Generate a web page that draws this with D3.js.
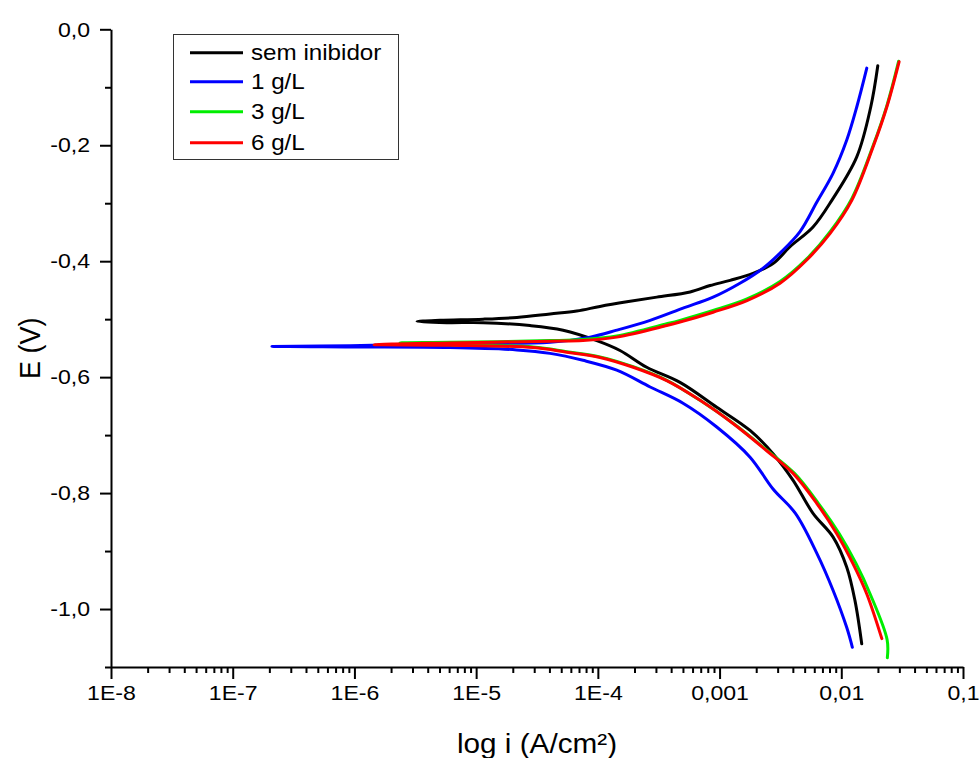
<!DOCTYPE html>
<html>
<head>
<meta charset="utf-8">
<script src="https://cdn.jsdelivr.net/npm/d3@7"></script>
<style>
  body { margin: 0; background: #fff; }
  svg { display: block; font-family: "Liberation Sans", Arial, sans-serif; }
</style>
</head>
<body>
<div class="chart"></div>
<script>
// series: current density (A/cm2) and potential (V),
// ordered along the scan: cathodic end -> corrosion tip -> anodic end
var seriesNames = ["sem inibidor", "1 g/L", "3 g/L", "6 g/L"];

var iSem = [0.01472, 0.01297, 0.01109, 0.00857, 0.00586, 0.00402, 0.00275, 0.00178, 9.48e-4, 4.73e-4,
    2.52e-4, 1.52e-4, 9.8e-5, 5.18e-5, 2.77e-5, 1.14e-5, 5.73e-6, 3.27e-6,
    5.05e-6, 1.14e-5, 2.16e-5, 4.05e-5, 6.71e-5, 1.04e-4, 1.73e-4, 3.05e-4, 5.73e-4, 8.36e-4,
    0.00122, 0.00188, 0.00275, 0.00379, 0.00586, 0.00836, 0.0134, 0.01746, 0.01995];
var eSem = [-1.060, -0.986, -0.928, -0.876, -0.835, -0.778, -0.732, -0.692, -0.652, -0.609,
    -0.583, -0.554, -0.537, -0.519, -0.511, -0.506, -0.506, -0.504,
    -0.502, -0.500, -0.497, -0.491, -0.486, -0.478, -0.470, -0.462, -0.453, -0.442,
    -0.433, -0.421, -0.404, -0.375, -0.341, -0.295, -0.220, -0.134, -0.063];

var i1 = [0.01233, 0.01109, 0.00857, 0.00630, 0.0042, 0.00275, 0.00178, 9.48e-4, 5.01e-4, 2.69e-4,
    1.43e-4, 7.55e-5, 4.05e-5, 2.16e-5, 6.1e-6, 9.2e-7, 2.1e-7,
    9.2e-7, 6.1e-6, 4.05e-5, 8.63e-5, 1.43e-4, 2.69e-4, 5.01e-4, 8.85e-4, 0.00147, 0.00228,
    0.00314, 0.00458, 0.00630, 0.00857, 0.01109, 0.0134, 0.0162];
var e1 = [-1.066, -1.032, -0.968, -0.904, -0.835, -0.793, -0.738, -0.686, -0.645, -0.617,
    -0.588, -0.571, -0.559, -0.553, -0.549, -0.548, -0.547,
    -0.546, -0.542, -0.540, -0.531, -0.519, -0.502, -0.481, -0.462, -0.438, -0.412,
    -0.386, -0.349, -0.298, -0.248, -0.191, -0.134, -0.067];

var i3 = [0.0239, 0.0238, 0.01726, 0.01324, 0.0096, 0.0065, 0.00413, 0.00248, 0.0013, 6.92e-4,
    3.65e-4, 1.95e-4, 1.04e-4, 5.54e-5, 2.94e-5, 6.1e-6, 2.37e-6,
    6.1e-6, 4.05e-5, 7.55e-5, 1.43e-4, 3.68e-4, 4.73e-4, 8.85e-4, 0.00168, 0.00314,
    0.0052, 0.0081, 0.0122, 0.01824, 0.02366, 0.0296];
var e3 = [-1.084, -1.053, -0.974, -0.922, -0.870, -0.818, -0.766, -0.727, -0.680, -0.640,
    -0.605, -0.582, -0.565, -0.556, -0.548, -0.544, -0.541,
    -0.540, -0.537, -0.535, -0.529, -0.508, -0.502, -0.485, -0.465, -0.435,
    -0.396, -0.349, -0.292, -0.201, -0.132, -0.055];

var i6 = [0.02153, 0.0162, 0.0125, 0.00918, 0.00630, 0.00402, 0.00244, 0.00129, 6.92e-4, 3.68e-4,
    1.95e-4, 1.04e-4, 5.54e-5, 2.94e-5, 6.1e-6, 1.45e-6,
    6.1e-6, 4.05e-5, 7.55e-5, 1.43e-4, 3.68e-4, 4.73e-4, 8.85e-4, 0.00168, 0.00314,
    0.0052, 0.0081, 0.0122, 0.01824, 0.02366, 0.02985];
var e6 = [-1.051, -0.974, -0.922, -0.870, -0.818, -0.766, -0.727, -0.680, -0.640, -0.606,
    -0.583, -0.566, -0.557, -0.549, -0.545, -0.544,
    -0.541, -0.538, -0.537, -0.531, -0.511, -0.505, -0.488, -0.468, -0.438,
    -0.398, -0.352, -0.295, -0.203, -0.134, -0.056];

var seriesColors = ["#000000", "#0000ff", "#00ee00", "#ff0000"];

var xTickValues = [1e-8, 1e-7, 1e-6, 1e-5, 1e-4, 1e-3, 1e-2, 1e-1];
var xTickLabels = ["1E-8", "1E-7", "1E-6", "1E-5", "1E-4", "0,001", "0,01", "0,1"];
var yTickValues = [0, -0.2, -0.4, -0.6, -0.8, -1.0];
var yTickLabels = ["0,0", "-0,2", "-0,4", "-0,6", "-0,8", "-1,0"];
var yMinorValues = [-0.1, -0.3, -0.5, -0.7, -0.9, -1.1];

var svgWidth = 980;
var svgHeight = 758;
var plotLeft = 111, plotRight = 963, plotTop = 29.3, plotBottom = 667;
var stretch = 1.1;   // text in the picture is a bit wider than plain Arial

var $svg = d3.select(".chart")
    .append("svg")
    .attr("width", svgWidth)
    .attr("height", svgHeight);

var xScale = d3.scaleLog().domain([1e-8, 0.1]).range([plotLeft, plotRight]);
var yScale = d3.scaleLinear().domain([-1.1, 0]).range([plotBottom, plotTop]);

var xMinor = [];
for (var d = -8; d < -1; d++) {
    for (var k = 2; k <= 9; k++) xMinor.push(k * Math.pow(10, d));
}

// minor ticks
$svg.append("g")
    .attr("transform", `translate(0,${plotBottom})`)
    .call(d3.axisBottom(xScale).tickValues(xMinor).tickSize(6).tickFormat(""))
    .call(g => g.select(".domain").remove())
    .selectAll("line").attr("stroke-width", 2);

$svg.append("g")
    .attr("transform", `translate(${plotLeft},0)`)
    .call(d3.axisLeft(yScale).tickValues(yMinorValues).tickSize(6).tickFormat(""))
    .call(g => g.select(".domain").remove())
    .selectAll("line").attr("stroke-width", 2);

// major ticks
var $xAxis = $svg.append("g")
    .attr("transform", `translate(0,${plotBottom})`)
    .call(d3.axisBottom(xScale).tickValues(xTickValues).tickSize(12).tickSizeOuter(0).tickPadding(6)
        .tickFormat((d, i) => xTickLabels[i]));

var $yAxis = $svg.append("g")
    .attr("transform", `translate(${plotLeft},0)`)
    .call(d3.axisLeft(yScale).tickValues(yTickValues).tickSize(11).tickSizeOuter(0)
        .tickFormat((d, i) => yTickLabels[i]));

[$xAxis, $yAxis].forEach(g => {
    g.select(".domain").attr("stroke-width", 2);
    g.selectAll(".tick line").attr("stroke-width", 2);
    g.selectAll(".tick text")
        .attr("fill", "#000")
        .style("font-size", "21px");
    g.attr("font-family", null);
});
$xAxis.selectAll(".tick text").attr("transform", `scale(${stretch},1)`);
$yAxis.selectAll(".tick text")
    .attr("transform", `scale(${stretch},1)`)
    .attr("x", -21 / stretch);

// curves
var allSeries = [[iSem, eSem], [i1, e1], [i3, e3], [i6, e6]];
var line = d3.line()
    .curve(d3.curveCatmullRom.alpha(0.5))
    .x(d => xScale(d[0]))
    .y(d => yScale(d[1]));

allSeries.forEach((s, n) => {
    var pts = s[0].map((v, j) => [v, s[1][j]]);
    $svg.append("path")
        .datum(pts)
        .attr("fill", "none")
        .attr("stroke", seriesColors[n])
        .attr("stroke-width", 3)
        .attr("stroke-linejoin", "round")
        .attr("stroke-linecap", "round")
        .attr("d", line);
});

// legend
var $legend = $svg.append("g");
$legend.append("rect")
    .attr("x", 173.5).attr("y", 34.5)
    .attr("width", 225).attr("height", 125)
    .attr("fill", "#fff")
    .attr("stroke", "#333")
    .attr("stroke-width", 1);

var rowY = [52.7, 81.7, 111.7, 142.7];
var $rows = $legend.selectAll(".row")
    .data(seriesNames)
    .enter()
    .append("g")
    .attr("class", "row")
    .attr("transform", (d, i) => `translate(0,${rowY[i]})`);

$rows.append("line")
    .attr("x1", 190).attr("x2", 243)
    .attr("stroke", (d, i) => seriesColors[i])
    .attr("stroke-width", 3);

$rows.append("text")
    .attr("transform", `translate(251,0) scale(${stretch},1)`)
    .attr("dy", "0.35em")
    .style("font-size", "22px")
    .text(d => d);

// axis titles
$svg.append("text")
    .attr("transform", `translate(${(plotLeft + plotRight) / 2},753) scale(${stretch},1)`)
    .attr("text-anchor", "middle")
    .style("font-size", "27px")
    .text("log i (A/cm²)");

$svg.append("text")
    .attr("transform", `translate(40,${(plotTop + plotBottom) / 2}) scale(${stretch},1) rotate(-90)`)
    .attr("text-anchor", "middle")
    .style("font-size", "27px")
    .text("E (V)");
</script>
</body>
</html>
